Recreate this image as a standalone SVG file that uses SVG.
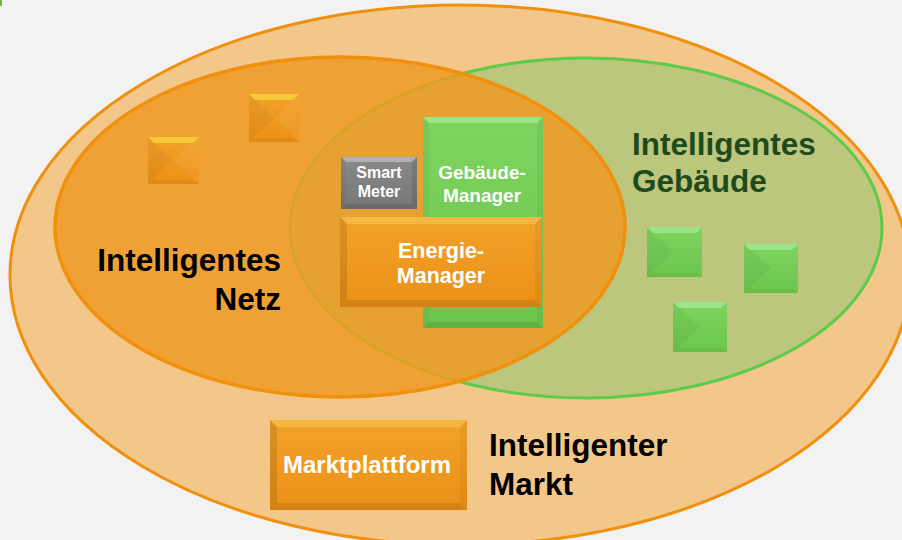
<svg xmlns="http://www.w3.org/2000/svg" width="902" height="540" viewBox="0 0 902 540">
<defs>
<style>
.lbl{font-family:"Liberation Sans",Arial,sans-serif;font-weight:bold;}
.big{font-size:31.5px;fill:#000;}
.wt{fill:#fff;text-anchor:middle;}
.sh{fill:#000;opacity:0.10;}
.sh2{fill:#000;opacity:0.045;}
.lt{fill:#fff;opacity:0.06;}
</style>
<linearGradient id="gO" x1="0" y1="0" x2="0" y2="1">
<stop offset="0" stop-color="#F2A22A"/><stop offset="1" stop-color="#EC9016"/>
</linearGradient>
<linearGradient id="gG" x1="0" y1="0" x2="0" y2="1">
<stop offset="0" stop-color="#7ED45E"/><stop offset="1" stop-color="#6CC64E"/>
</linearGradient>
<linearGradient id="gS" x1="0" y1="0" x2="0" y2="1">
<stop offset="0" stop-color="#8A8A8A"/><stop offset="1" stop-color="#767676"/>
</linearGradient>
</defs>
<rect width="902" height="540" fill="#F2F2F2"/>
<rect x="0" y="0" width="2" height="6" fill="#7CB342"/>

<g id="markt-ellipse">
<ellipse cx="460" cy="275" rx="450" ry="270" fill="#F3C68A" stroke="#F0900F" stroke-width="3"/>
</g>
<g id="gebaeude-ellipse">
<ellipse cx="586" cy="228" rx="296" ry="170" fill="#BCC67C" stroke="#5CCB4A" stroke-width="3"/>
</g>
<g id="netz-ellipse">
<ellipse cx="340" cy="227" rx="285" ry="170" fill="#EF9A22" fill-opacity="0.84" stroke="#F0900F" stroke-width="3.5"/>
</g>

<g id="orange-square-1">
<rect x="148" y="137" width="51" height="47" fill="url(#gO)"/>
<polygon points="148,137 199,137 193,143 154,143" fill="#F8C838"/>
<polygon points="148,137 173,160 148,184" class="sh2"/>
<polygon points="199,137 173,160 199,184" class="lt"/>
<polygon points="148,184 199,184 194,180 153,180" class="sh2"/>
</g>
<g id="orange-square-2">
<rect x="249" y="94" width="50" height="48" fill="url(#gO)"/>
<polygon points="249,94 299,94 293,100 255,100" fill="#F8C838"/>
<polygon points="249,94 274,118 249,142" class="sh2"/>
<polygon points="299,94 274,118 299,142" class="lt"/>
<polygon points="249,142 299,142 294,138 254,138" class="sh2"/>
</g>

<g id="green-square-1">
<rect x="647" y="227" width="55" height="50" fill="url(#gG)"/>
<polygon points="647,227 702,227 696,233 653,233" fill="#9AE48A"/>
<polygon points="647,227 674,252 647,277" class="sh2"/>
<polygon points="647,277 702,277 697,273 652,273" class="sh2"/>
</g>
<g id="green-square-2">
<rect x="744" y="244" width="54" height="49" fill="url(#gG)"/>
<polygon points="744,244 798,244 792,250 750,250" fill="#9AE48A"/>
<polygon points="744,244 771,268 744,293" class="sh2"/>
<polygon points="744,293 798,293 793,289 749,289" class="sh2"/>
</g>
<g id="green-square-3">
<rect x="673" y="302" width="54" height="50" fill="url(#gG)"/>
<polygon points="673,302 727,302 721,308 679,308" fill="#9AE48A"/>
<polygon points="673,302 700,327 673,352" class="sh2"/>
<polygon points="673,352 727,352 722,348 678,348" class="sh2"/>
</g>

<g id="gebaeude-manager">
<rect x="423" y="117" width="120" height="211" fill="url(#gG)"/>
<polygon points="423,117 543,117 537,123 429,123" fill="#9AE48A"/>
<polygon points="423,117 429,123 429,322 423,328" class="sh2"/>
<polygon points="543,117 537,123 537,322 543,328" class="sh2"/>
<polygon points="423,328 543,328 537,322 429,322" class="sh"/>
<text class="lbl wt" x="482" y="179" font-size="19">Gebäude-</text>
<text class="lbl wt" x="482" y="202" font-size="19">Manager</text>
</g>

<g id="smart-meter">
<rect x="341" y="157" width="76" height="52" fill="url(#gS)"/>
<polygon points="341,157 417,157 412,162 346,162" fill="#B0B0B0"/>
<polygon points="341,157 346,162 346,204 341,209" class="sh2"/>
<polygon points="417,157 412,162 412,204 417,209" class="sh"/>
<polygon points="341,209 417,209 412,204 346,204" class="sh"/>
<text class="lbl wt" x="379" y="178" font-size="16">Smart</text>
<text class="lbl wt" x="379" y="197" font-size="16">Meter</text>
</g>

<g id="energie-manager">
<rect x="340" y="217" width="202" height="90" fill="url(#gO)"/>
<polygon points="340,217 542,217 535,224 347,224" fill="#F6B840"/>
<polygon points="340,217 347,224 347,300 340,307" class="sh"/>
<polygon points="542,217 535,224 535,300 542,307" class="sh2"/>
<polygon points="340,307 542,307 535,300 347,300" class="sh"/>
<text class="lbl wt" x="441" y="258" font-size="21.5">Energie-</text>
<text class="lbl wt" x="441" y="283" font-size="21.5">Manager</text>
</g>

<g id="marktplattform">
<rect x="270" y="420" width="197" height="90" fill="url(#gO)"/>
<polygon points="270,420 467,420 460,427 277,427" fill="#F6B840"/>
<polygon points="270,420 277,427 277,503 270,510" class="sh"/>
<polygon points="467,420 460,427 460,503 467,510" class="sh2"/>
<polygon points="270,510 467,510 460,503 277,503" class="sh"/>
<text class="lbl wt" x="367" y="473" font-size="24">Marktplattform</text>
</g>

<g id="labels">
<text class="lbl big" x="281" y="271" text-anchor="end">Intelligentes</text>
<text class="lbl big" x="281" y="310" text-anchor="end">Netz</text>
<text class="lbl big" x="632" y="155" style="fill:#1E4A1C">Intelligentes</text>
<text class="lbl big" x="632" y="192" style="fill:#1E4A1C">Gebäude</text>
<text class="lbl big" x="489" y="456">Intelligenter</text>
<text class="lbl big" x="489" y="495">Markt</text>
</g>
<g id="connectors"/>
</svg>
